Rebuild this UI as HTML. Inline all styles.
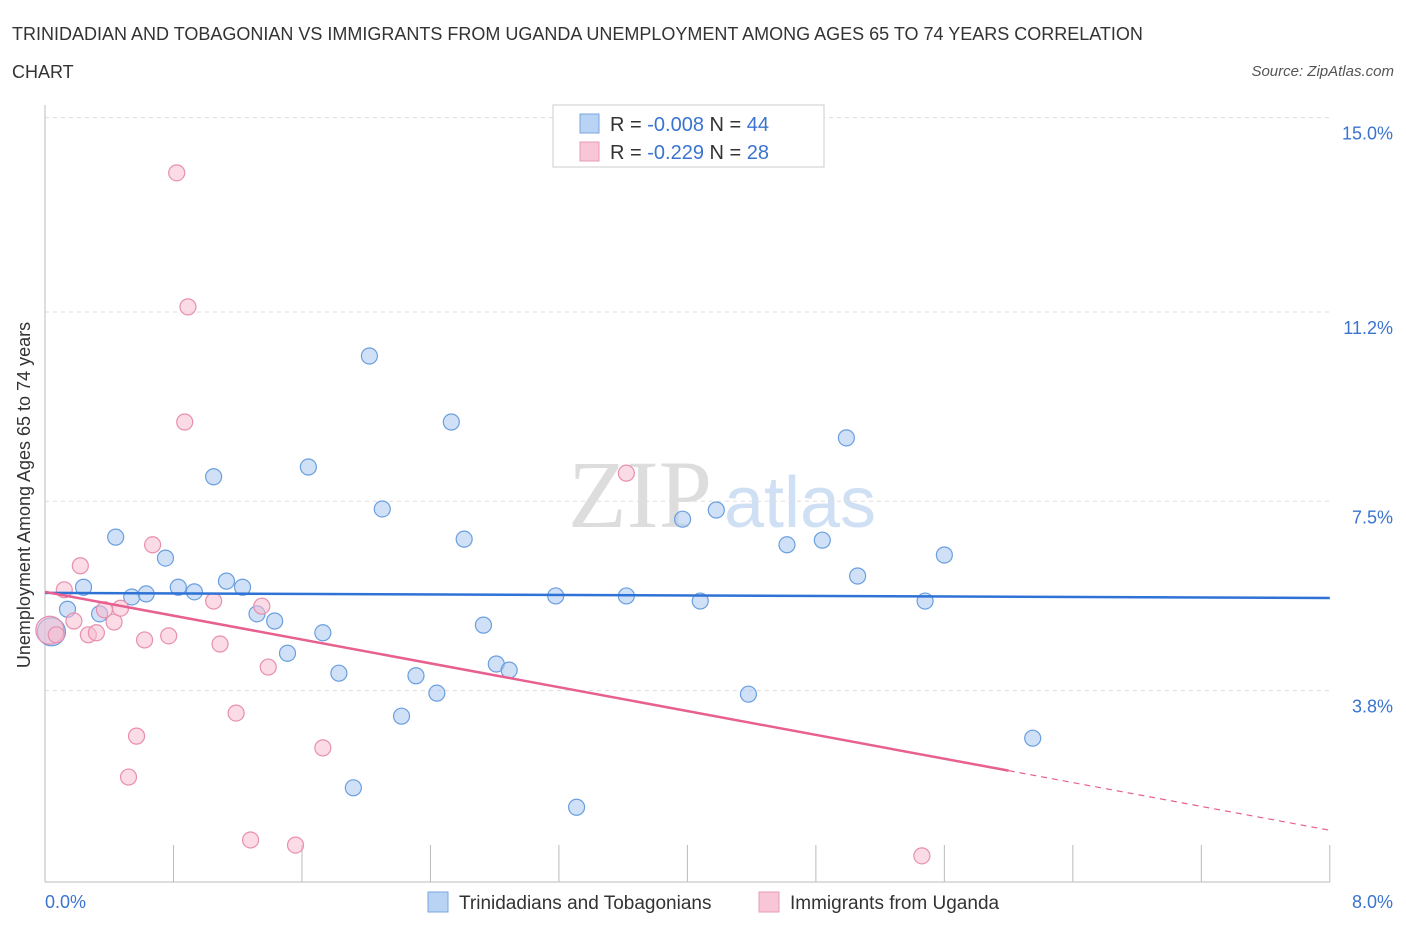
<!DOCTYPE html>
<html><head><meta charset="utf-8"><style>
body{margin:0;background:#fff;font-family:"Liberation Sans",sans-serif;}
</style></head><body>
<svg width="1406" height="930" viewBox="0 0 1406 930" xmlns="http://www.w3.org/2000/svg">
<text x="12" y="40" font-size="18" fill="#333">TRINIDADIAN AND TOBAGONIAN VS IMMIGRANTS FROM UGANDA UNEMPLOYMENT AMONG AGES 65 TO 74 YEARS CORRELATION</text>
<text x="12" y="78" font-size="18" fill="#333">CHART</text>
<text x="1394" y="76" font-size="15" fill="#555" font-style="italic" text-anchor="end">Source: ZipAtlas.com</text>
<text x="640" y="527" font-size="96" fill="#ddd" font-family="Liberation Serif,serif" text-anchor="middle">ZIP</text>
<text x="800" y="527" font-size="72" fill="#cfe0f5" text-anchor="middle">atlas</text>
<g id="grid"></g>
<g id="axes"></g>
<g id="pts"></g>
<g id="lines"></g>
<text x="30" y="495" font-size="18" fill="#333" text-anchor="middle" transform="rotate(-90 30 495)">Unemployment Among Ages 65 to 74 years</text>
<text x="45" y="908" font-size="18" fill="#3a74d0">0.0%</text>
<text x="1393" y="908" font-size="18" fill="#3a74d0" text-anchor="end">8.0%</text>
<g>
<rect x="553" y="105" width="271" height="62" fill="#fff" stroke="#ccc"/>
<rect x="580" y="114" width="19" height="19" fill="#b9d3f5" stroke="#7aa6e0"/>
<rect x="580" y="142" width="19" height="19" fill="#f8c6d6" stroke="#e99ab4"/>
<text x="610" y="131" font-size="20" fill="#333">R = <tspan fill="#3a74d0">-0.008</tspan>   N = <tspan fill="#3a74d0">44</tspan></text>
<text x="610" y="159" font-size="20" fill="#333">R =  <tspan fill="#3a74d0">-0.229</tspan>   N =  <tspan fill="#3a74d0">28</tspan></text>
</g>
<g>
<rect x="428" y="892" width="20" height="20" fill="#b9d3f5" stroke="#7aa6e0"/>
<text x="459" y="909" font-size="19" fill="#333">Trinidadians and Tobagonians</text>
<rect x="759" y="892" width="20" height="20" fill="#f8c6d6" stroke="#e99ab4"/>
<text x="790" y="909" font-size="19" fill="#333">Immigrants from Uganda</text>
</g>
</svg>
<script>
const yTicks=[3.8,7.5,11.2,15.0];
const yTickLabels=["3.8%","7.5%","11.2%","15.0%"];
const xTicks=[0,0.8,1.6,2.4,3.2,4.0,4.8,5.6,6.4,7.2,8.0];
const blueX=[0.04,0.14,0.24,0.34,0.44,0.54,0.63,0.75,0.83,0.93,1.05,1.13,1.23,1.32,1.43,1.51,1.64,1.73,1.83,1.92,2.02,2.10,2.22,2.31,2.44,2.53,2.61,2.73,2.81,2.89,3.18,3.31,3.62,3.97,4.08,4.18,4.38,4.62,4.84,4.99,5.06,5.48,5.60,6.15];
const blueY=[4.95,5.39,5.82,5.30,6.80,5.63,5.69,6.39,5.82,5.73,7.98,5.94,5.82,5.30,5.16,4.53,8.17,4.93,4.14,1.90,10.34,7.35,3.30,4.09,3.75,9.05,6.76,5.08,4.32,4.20,5.65,1.52,5.65,7.15,5.55,7.33,3.73,6.65,6.74,8.74,6.04,5.55,6.45,2.87];
const pinkX=[0.03,0.07,0.12,0.18,0.22,0.27,0.32,0.37,0.43,0.47,0.52,0.57,0.62,0.67,0.77,0.82,0.87,0.89,1.05,1.09,1.19,1.28,1.35,1.39,1.56,1.73,3.62,5.46];
const pinkY=[4.98,4.89,5.77,5.16,6.24,4.89,4.93,5.38,5.14,5.41,2.11,2.91,4.79,6.65,4.87,13.92,9.05,11.30,5.55,4.71,3.36,0.88,5.45,4.26,0.78,2.68,8.05,0.57];
const blueTrend=[5.71,5.61]; // y at x=0 and x=8
const pinkTrend=[5.73,1.07];
const pinkSolidEnd=6.0;
const NS="http://www.w3.org/2000/svg";
const xs=v=>45+v*160.6, ys=v=>885-v*51.16;
function mk(tag,attrs,parent){const e=document.createElementNS(NS,tag);for(const k in attrs)e.setAttribute(k,attrs[k]);document.getElementById(parent).appendChild(e);return e;}
yTicks.forEach((t,i)=>{
 const l=mk('line',{x1:45,x2:1330,y1:ys(t),y2:ys(t),stroke:'#ddd','stroke-dasharray':'4,4'},'grid');
 
 
 const tx=mk('text',{x:1393,y:ys(t)+22,'font-size':18,fill:'#3a74d0','text-anchor':'end'},'grid');
 tx.textContent=yTickLabels[i];
 
 
});
const ya=mk('line',{x1:45,x2:45,y1:105,y2:882,stroke:'#bbb'},'axes');


const xa=mk('line',{x1:45,x2:1330,y1:882,y2:882,stroke:'#bbb'},'axes');


xTicks.forEach(t=>{
 const l=mk('line',{x1:xs(t),x2:xs(t),y1:845,y2:882,stroke:'#bbb'},'axes');
 
 
});
function dots(X,Y,fill,stroke,name){
 X.forEach((x,i)=>{
  const r=i===0?14:8;
  const c=mk('circle',{cx:xs(x),cy:ys(Y[i]),r:r,fill:fill,'fill-opacity':0.55,stroke:stroke,'stroke-width':1.2},'pts');
  
  
 });
}
dots(blueX,blueY,'#a9c8f0','#6a9fdf','blue-point');
dots(pinkX,pinkY,'#f7bdd0','#e88fae','pink-point');
const bl=mk('line',{x1:xs(0),y1:ys(blueTrend[0]),x2:xs(8),y2:ys(blueTrend[1]),stroke:'#2f72d6','stroke-width':2.5},'lines');


const pAt=x=>pinkTrend[0]+(pinkTrend[1]-pinkTrend[0])*x/8;
const pl=mk('line',{x1:xs(0),y1:ys(pinkTrend[0]),x2:xs(pinkSolidEnd),y2:ys(pAt(pinkSolidEnd)),stroke:'#e8608f','stroke-width':2.5},'lines');


const pd=mk('line',{x1:xs(pinkSolidEnd),y1:ys(pAt(pinkSolidEnd)),x2:xs(8),y2:ys(pinkTrend[1]),stroke:'#e8608f','stroke-width':1.2,'stroke-dasharray':'6,5'},'lines');


</script>
</body></html>
